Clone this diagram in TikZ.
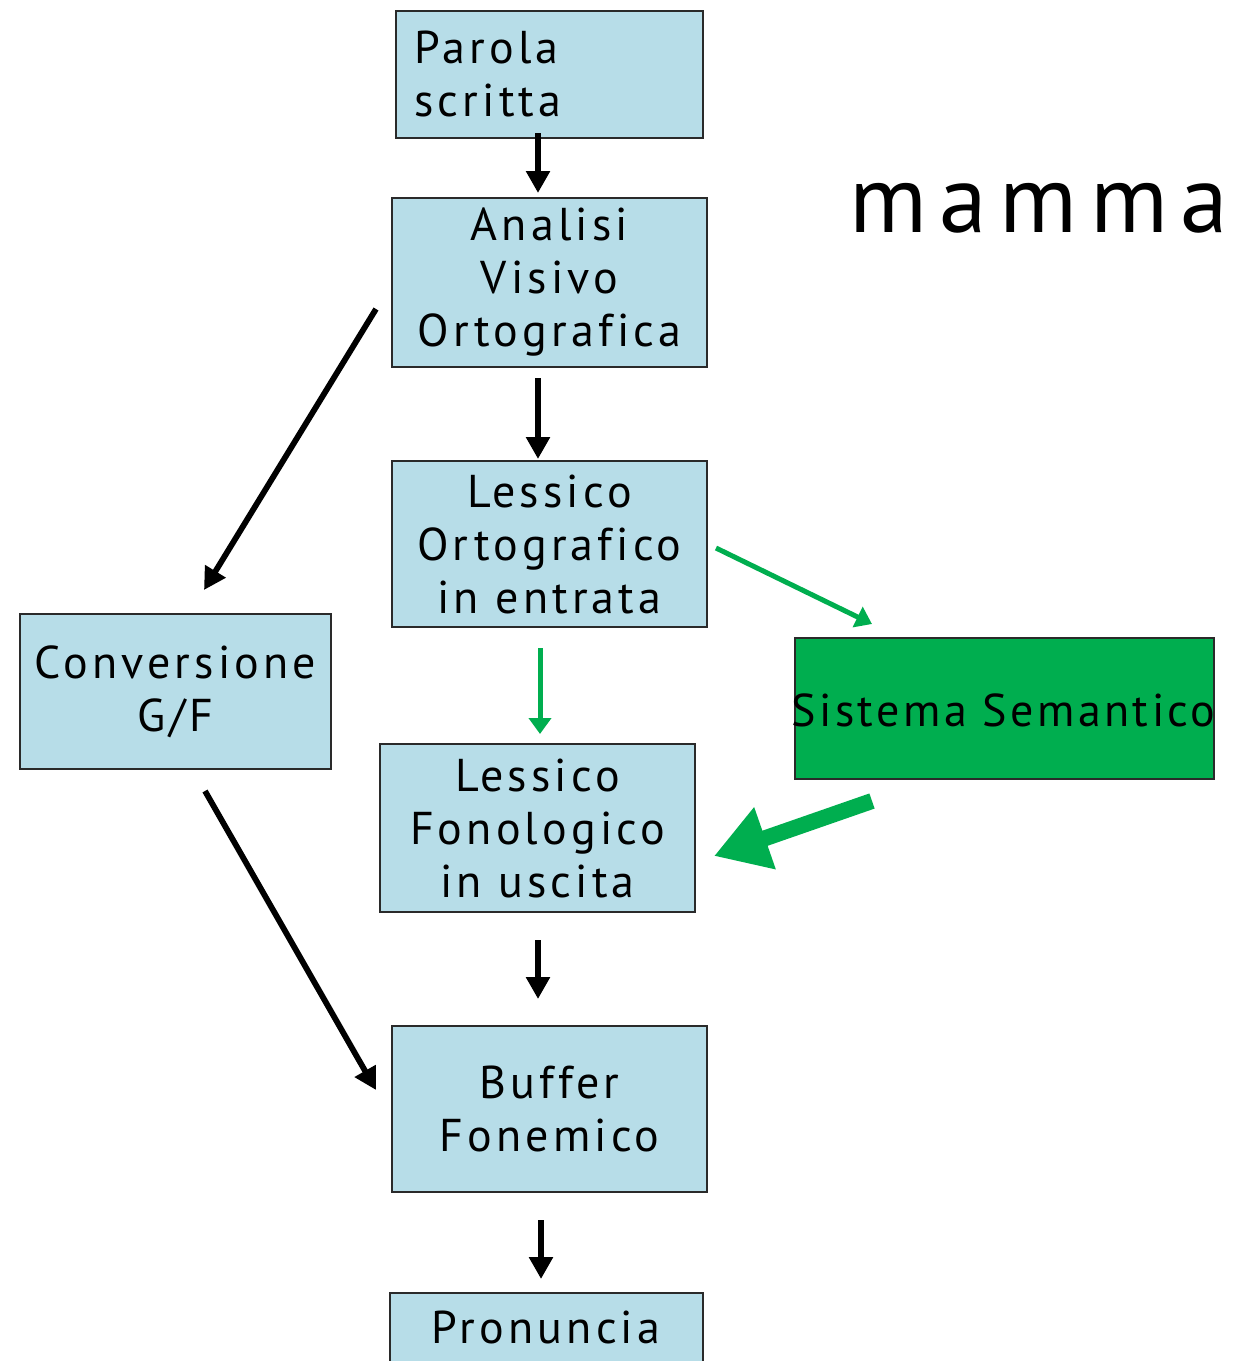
\documentclass[tikz,border=0pt]{standalone}
\usepackage{fontspec}
\setmainfont{PT Sans}[LetterSpace=9,Ligatures={NoCommon}]
\newfontfamily\semfont{PT Sans}[LetterSpace=7.5]
\newfontfamily\bigfont{PT Sans}[LetterSpace=13]
\usetikzlibrary{arrows.meta}
\definecolor{boxblue}{HTML}{B7DDE8}
\definecolor{semgreen}{HTML}{00AE4F}
\definecolor{edge}{HTML}{2A2A2A}
\begin{document}
\begin{tikzpicture}[x=0.5pt,y=-0.5pt,
  box/.style={draw=edge, line width=0.9pt, fill=boxblue, inner sep=0pt,
    font=\fontsize{23}{26.5}\selectfont, align=center},
  blk/.style={line width=2.9pt, -{Triangle[length=11pt,width=11.5pt]}},
  grn/.style={draw=semgreen, line width=2.5pt, -{Triangle[length=8pt,width=11pt]}, semgreen},
  biggrn/.style={draw=semgreen, line width=8pt, -{Triangle[length=27pt,width=31pt]}, semgreen}]
\useasboundingbox (0,0) rectangle (1235,1361);

% process boxes
\node[box, minimum width=153.5pt, minimum height=63.5pt] (par) at (549.5,74.5) {};
\node[anchor=west, font=\fontsize{23}{26.5}\selectfont, align=left, inner sep=0pt] (partxt) at (414,73.5) {Parola\\scritta};
\node[box, minimum width=157.5pt, minimum height=84.5pt] (ana) at (549.5,282.5) {Analisi\\Visivo\\Ortografica};
\node[box, minimum width=157.5pt, minimum height=83pt] (lor) at (549.5,544) {Lessico\\Ortografico\\in entrata};
\node[box, minimum width=155.5pt, minimum height=77.5pt] (con) at (175.5,691.5) {Conversione\\G/F};
\node[box, fill=semgreen, minimum width=209.5pt, minimum height=70.5pt] (sem) at (1004.5,708.5) {};
\node[font=\semfont\fontsize{23}{26.5}\selectfont, inner sep=0pt] (semtxt) at (1003.5,710) {Sistema Semantico};
\node[box, minimum width=157.5pt, minimum height=84pt] (lfo) at (537.5,828) {Lessico\\Fonologico\\in uscita};
\node[box, minimum width=157.5pt, minimum height=83pt] (buf) at (549.5,1109) {Buffer\\Fonemico};
\node[box, minimum width=156.5pt, minimum height=60pt, anchor=north] (pro) at (546.5,1292) {};
\node[font=\fontsize{23}{26.5}\selectfont, inner sep=0pt] (protxt) at (546,1327) {Pronuncia};

% example word
\node[font=\bigfont\fontsize{48}{55}\selectfont, inner sep=0pt] (word) at (1039,208) {mamma};

% connector end points
\coordinate (a1) at (538,133);  \coordinate (a2) at (538,193);
\coordinate (b1) at (538,378);  \coordinate (b2) at (538,459);
\coordinate (c1) at (376,309);  \coordinate (c2) at (204,590);
\coordinate (d1) at (540,648);  \coordinate (d2) at (540,734);
\coordinate (e1) at (716,548);  \coordinate (e2) at (872,624);
\coordinate (f1) at (872,801);  \coordinate (f2) at (714,856);
\coordinate (g1) at (538,940);  \coordinate (g2) at (538,999);
\coordinate (h1) at (205,791);  \coordinate (h2) at (376,1090);
\coordinate (i1) at (541,1220); \coordinate (i2) at (541,1279);

% connectors
\draw[blk] (a1) -- (a2);
\draw[blk] (b1) -- (b2);
\draw[blk] (c1) -- (c2);
\draw[grn] (d1) -- (d2);
\draw[grn] (e1) -- (e2);
\draw[biggrn] (f1) -- (f2);
\draw[blk] (g1) -- (g2);
\draw[blk] (h1) -- (h2);
\draw[blk] (i1) -- (i2);
\end{tikzpicture}
\end{document}
